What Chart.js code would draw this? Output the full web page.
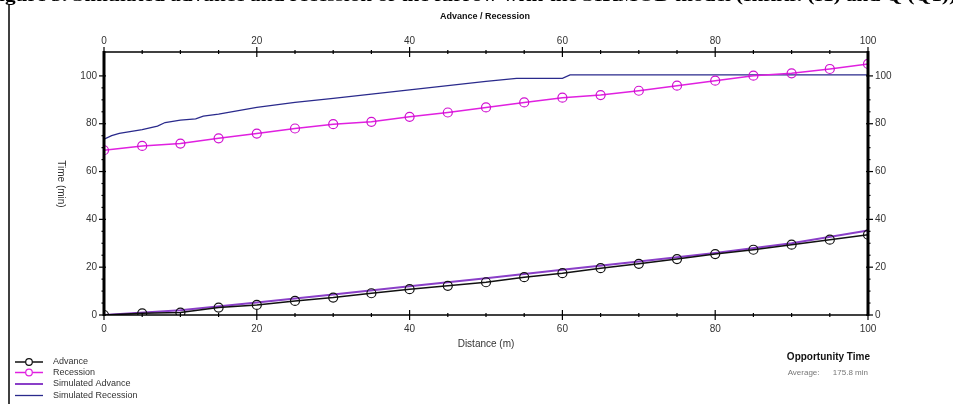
<!DOCTYPE html>
<html>
<head>
<meta charset="utf-8">
<script src="https://cdn.jsdelivr.net/npm/chart.js@4.4.1/dist/chart.umd.min.js"></script>
<style>
  html, body { margin: 0; padding: 0; background: #fff; }
  #wrap { width: 953px; height: 404px; }
</style>
</head>
<body>
<div id="wrap"><canvas id="chart" width="953" height="404"></canvas></div>
<script>
// ── Data ────────────────────────────────────────────────────────
const advDist = [0, 5, 10, 15, 20, 25, 30, 35, 40, 45, 50, 55, 60, 65, 70, 75, 80, 85, 90, 95, 100];
const advTime = [0, 0.7, 1.0, 3.1, 4.2, 5.9, 7.3, 9.1, 10.8, 12.2, 13.7, 15.8, 17.5, 19.6, 21.4, 23.4, 25.5, 27.3, 29.4, 31.5, 33.6];

const recDist = [0, 5, 10, 15, 20, 25, 30, 35, 40, 45, 50, 55, 60, 65, 70, 75, 80, 85, 90, 95, 100];
const recTime = [68.9, 70.7, 71.7, 73.9, 75.9, 78.0, 79.8, 80.8, 82.9, 84.7, 86.8, 88.9, 90.9, 92.0, 93.8, 95.9, 98.0, 100.1, 101.1, 102.9, 105.0];

const simAdvDist = [0, 10, 20, 30, 40, 50, 60, 70, 80, 90, 100];
const simAdvTime = [0, 2.0, 5.2, 8.6, 12.0, 15.4, 18.9, 22.4, 25.9, 30.0, 35.4];

const simRecDist = [0, 1, 2, 3, 5, 7, 8, 10, 12, 13, 15, 20, 25, 30, 35, 40, 45, 50, 54, 60, 61, 100];
const simRecTime = [73.5, 75, 76, 76.5, 77.5, 79, 80.5, 81.5, 82, 83.2, 84, 86.8, 88.9, 90.6, 92.4, 94.2, 95.9, 97.7, 99, 99, 100.4, 100.4];

const legendLabels = ["Advance", "Recession", "Simulated Advance", "Simulated Recession"];
const xTickStep = 20, yTickStep = 20;

const toPts = (xs, ys) => xs.map((x, i) => ({ x, y: ys[i] }));

const TICK_FONT = { family: "'Liberation Sans', Arial, sans-serif", size: 10 };
const TICK_COLOR = "#333";

// ── Overlay: axis lines, tick marks, titles, legend, notes ─────
const overlayPlugin = {
  id: "overlay",
  afterDatasetsDraw(chart) {
    const ctx = chart.ctx;
    const { left, right, top, bottom } = chart.chartArea;
    const xs = chart.scales.x, ys = chart.scales.y;
    ctx.save();

    // axis lines
    ctx.strokeStyle = "#000";
    ctx.lineWidth = 1.5;
    ctx.beginPath(); ctx.moveTo(left, top); ctx.lineTo(right, top); ctx.stroke();
    ctx.beginPath(); ctx.moveTo(left, bottom); ctx.lineTo(right, bottom); ctx.stroke();
    ctx.lineWidth = 3;
    ctx.beginPath(); ctx.moveTo(left, top - 1); ctx.lineTo(left, bottom + 1); ctx.stroke();
    ctx.beginPath(); ctx.moveTo(right, top - 1); ctx.lineTo(right, bottom + 1); ctx.stroke();

    // x tick marks (top and bottom)
    ctx.lineWidth = 1.2;
    for (let v = 0; v <= 100; v += 5) {
      const px = xs.getPixelForValue(v);
      const major = v % xTickStep === 0;
      const len = major ? 5 : 2;
      ctx.beginPath(); ctx.moveTo(px, top - len); ctx.lineTo(px, top + len); ctx.stroke();
      ctx.beginPath(); ctx.moveTo(px, bottom - len); ctx.lineTo(px, bottom + len); ctx.stroke();
    }
    // y tick marks (left and right)
    for (let v = 0; v <= 100; v += 5) {
      const py = ys.getPixelForValue(v);
      const major = v % yTickStep === 0;
      const len = major ? 5 : 2.5;
      ctx.beginPath(); ctx.moveTo(left - len, py); ctx.lineTo(left + (major ? 2 : 1), py); ctx.stroke();
      ctx.beginPath(); ctx.moveTo(right - (major ? 2 : 1), py); ctx.lineTo(right + len, py); ctx.stroke();
    }

    // left frame line
    ctx.lineWidth = 1.5;
    ctx.beginPath(); ctx.moveTo(9, 4); ctx.lineTo(9, 404); ctx.stroke();

    // cut-off figure caption at the very top
    ctx.fillStyle = "#000";
    ctx.font = "bold 17px 'Liberation Serif', 'Times New Roman', serif";
    ctx.textBaseline = "alphabetic";
    ctx.textAlign = "left";
    const cap = "Figure 5. Simulated advance and recession of the furrow with the SIRMOD model (Infiltr. (I1) and Q (Q1))";
    const w = ctx.measureText(cap).width;
    ctx.save();
    ctx.translate(-14, 1);
    ctx.scale(970 / w, 1);
    ctx.fillText(cap, 0, 0);
    ctx.restore();

    // chart title
    ctx.fillStyle = "#111";
    ctx.font = "bold 9px 'Liberation Sans', Arial, sans-serif";
    ctx.textAlign = "center";
    ctx.textBaseline = "middle";
    ctx.fillText("Advance / Recession", 485, 17);

    // axis titles
    ctx.font = "10px 'Liberation Sans', Arial, sans-serif";
    ctx.fillStyle = "#333";
    ctx.fillText("Distance (m)", 486, 344);
    ctx.save();
    ctx.translate(61, 184);
    ctx.rotate(Math.PI / 2);
    ctx.fillText("Time (min)", 0, 0);
    ctx.restore();

    // legend
    const ds = chart.data.datasets;
    const legY = [362, 372.5, 384, 395.5];
    ctx.font = "9px 'Liberation Sans', Arial, sans-serif";
    ctx.textAlign = "left";
    legendLabels.forEach((lbl, i) => {
      const d = ds[i];
      ctx.strokeStyle = d.borderColor;
      ctx.lineWidth = d.borderWidth;
      ctx.beginPath(); ctx.moveTo(15, legY[i]); ctx.lineTo(43, legY[i]); ctx.stroke();
      if (d.pointRadius > 0) {
        ctx.lineWidth = 1.2;
        ctx.beginPath(); ctx.arc(29, legY[i], 3.3, 0, Math.PI * 2);
        ctx.fillStyle = "#fff"; ctx.fill(); ctx.stroke();
      }
      ctx.fillStyle = "#333";
      ctx.fillText(lbl, 53, legY[i]);
    });

    // opportunity time note
    ctx.textAlign = "right";
    ctx.fillStyle = "#111";
    ctx.font = "bold 10px 'Liberation Sans', Arial, sans-serif";
    ctx.fillText("Opportunity Time", 870, 357);
    ctx.fillStyle = "#777";
    ctx.font = "8px 'Liberation Sans', Arial, sans-serif";
    ctx.fillText("Average:      175.8 min", 868, 373);

    ctx.restore();
  }
};

function axisBase(extra) {
  return Object.assign({
    type: "linear",
    grid: { display: false, drawTicks: false },
    border: { display: false },
  }, extra);
}

const keepSteps = step => scale => {
  scale.ticks = scale.ticks.filter(t => t.value % step === 0);
};

new Chart(document.getElementById("chart"), {
  type: "scatter",
  data: {
    datasets: [
      {
        label: legendLabels[0],
        data: toPts(advDist, advTime),
        showLine: true,
        borderColor: "#111",
        borderWidth: 1.5,
        backgroundColor: "rgba(0,0,0,0)",
        pointRadius: 4.5,
        pointBorderWidth: 1.2,
        pointBorderColor: "#111",
        xAxisID: "x", yAxisID: "y",
      },
      {
        label: legendLabels[1],
        data: toPts(recDist, recTime),
        showLine: true,
        borderColor: "#e020e0",
        borderWidth: 1.5,
        backgroundColor: "rgba(0,0,0,0)",
        pointRadius: 4.5,
        pointBorderWidth: 1.2,
        pointBorderColor: "#d010d0",
        xAxisID: "x", yAxisID: "y",
      },
      {
        label: legendLabels[2],
        data: toPts(simAdvDist, simAdvTime),
        showLine: true,
        borderColor: "#8a3fc8",
        borderWidth: 2,
        pointRadius: 0,
        xAxisID: "x", yAxisID: "y",
      },
      {
        label: legendLabels[3],
        data: toPts(simRecDist, simRecTime),
        showLine: true,
        borderColor: "#2a2a8c",
        borderWidth: 1.3,
        pointRadius: 0,
        xAxisID: "x", yAxisID: "y",
      },
    ]
  },
  plugins: [overlayPlugin],
  options: {
    responsive: false,
    animation: false,
    layout: { padding: 0 },
    plugins: { legend: { display: false }, title: { display: false }, tooltip: { enabled: false } },
    scales: {
      x: axisBase({
        position: "bottom", min: 0, max: 100,
        ticks: { stepSize: xTickStep, padding: 8, font: TICK_FONT, color: TICK_COLOR, maxRotation: 0 },
        afterBuildTicks: keepSteps(xTickStep),
        afterFit(s) { s.height = 89; },
      }),
      x2: axisBase({
        position: "top", min: 0, max: 100,
        ticks: { stepSize: xTickStep, padding: 5, font: TICK_FONT, color: TICK_COLOR, maxRotation: 0 },
        afterBuildTicks: keepSteps(xTickStep),
        afterFit(s) { s.height = 52; },
      }),
      y: axisBase({
        position: "left", min: 0, max: 110,
        ticks: { stepSize: yTickStep, padding: 7, font: TICK_FONT, color: TICK_COLOR },
        afterBuildTicks: keepSteps(yTickStep),
        afterFit(s) { s.width = 104; },
      }),
      y2: axisBase({
        position: "right", min: 0, max: 110,
        ticks: { stepSize: yTickStep, padding: 7, font: TICK_FONT, color: TICK_COLOR },
        afterBuildTicks: keepSteps(yTickStep),
        afterFit(s) { s.width = 85; },
      }),
    }
  }
});
</script>
</body>
</html>
